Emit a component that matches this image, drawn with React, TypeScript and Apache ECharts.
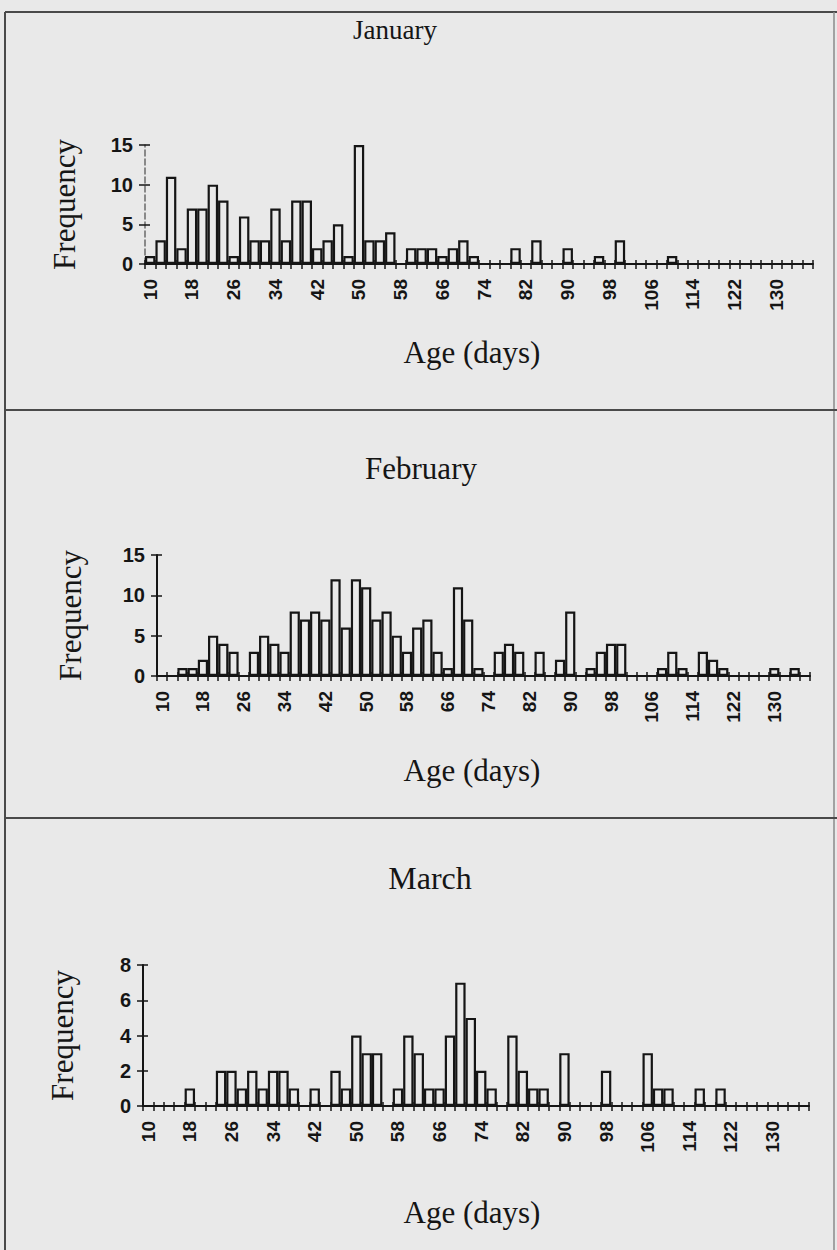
import React, { useEffect, useRef } from "react";
import * as echarts from "echarts";

// Age bins (days)
const ages = [
  "10","12","14","16","18","20","22","24","26","28","30","32","34","36","38","40",
  "42","44","46","48","50","52","54","56","58","60","62","64","66","68","70","72",
  "74","76","78","80","82","84","86","88","90","92","94","96","98","100","102","104",
  "106","108","110","112","114","116","118","120","122","124","126","128","130","132","134","136",
];

const janFreq = [
  1, 3, 11, 2, 7, 7, 10, 8, 1, 6, 3, 3, 7, 3, 8, 8,
  2, 3, 5, 1, 15, 3, 3, 4, 0, 2, 2, 2, 1, 2, 3, 1,
  0, 0, 0, 2, 0, 3, 0, 0, 2, 0, 0, 1, 0, 3, 0, 0,
  0, 0, 1, 0, 0, 0, 0, 0, 0, 0, 0, 0, 0, 0, 0, 0,
];

const febFreq = [
  0, 0, 1, 1, 2, 5, 4, 3, 0, 3, 5, 4, 3, 8, 7, 8,
  7, 12, 6, 12, 11, 7, 8, 5, 3, 6, 7, 3, 1, 11, 7, 1,
  0, 3, 4, 3, 0, 3, 0, 2, 8, 0, 1, 3, 4, 4, 0, 0,
  0, 1, 3, 1, 0, 3, 2, 1, 0, 0, 0, 0, 1, 0, 1, 0,
];

const marFreq = [
  0, 0, 0, 0, 1, 0, 0, 2, 2, 1, 2, 1, 2, 2, 1, 0,
  1, 0, 2, 1, 4, 3, 3, 0, 1, 4, 3, 1, 1, 4, 7, 5,
  2, 1, 0, 4, 2, 1, 1, 0, 3, 0, 0, 0, 2, 0, 0, 0,
  3, 1, 1, 0, 0, 1, 0, 1, 0, 0, 0, 0, 0, 0, 0, 0,
];

const monthNames = ["January", "February", "March"];
const yMaxes = [15, 15, 8];
const yIntervals = [5, 5, 2];
const yAxisTitle = "Frequency";
const xAxisTitle = "Age (days)";

// layout (pixels)
const panels = [
  { left: 145, top: 145, width: 668, height: 119, titleX: 395, titleY: 30, titleSize: 27, freqX: 64, ageY: 352, dashedY: true },
  { left: 157, top: 555, width: 653, height: 121, titleX: 421, titleY: 468, titleSize: 31, freqX: 70, ageY: 770, dashedY: false },
  { left: 143, top: 965, width: 666, height: 141, titleX: 430, titleY: 878, titleSize: 32, freqX: 62, ageY: 1212, dashedY: false },
];

const BG = "#e9e9e9";
const INK = "#151515";
const SANS = "'Liberation Sans', Arial, sans-serif";
const SERIF = "'Liberation Serif', 'Times New Roman', serif";

export default function App() {
  const ref = useRef<HTMLDivElement>(null);

  useEffect(() => {
    if (!ref.current) return;
    const chart = echarts.init(ref.current, null, { renderer: "svg" });
    const data = [janFreq, febFreq, marFreq];

    const grid: any[] = [];
    const xAxis: any[] = [];
    const yAxis: any[] = [];
    const series: any[] = [];
    const graphic: any[] = [];

    panels.forEach((p, i) => {
      grid.push({ left: p.left, top: p.top, width: p.width, height: p.height, containLabel: false });
      xAxis.push({
        type: "category",
        gridIndex: i,
        data: ages,
        position: "bottom",
        boundaryGap: true,
        axisLine: { show: true, lineStyle: { color: INK, width: 2 } },
        axisTick: { show: true, interval: 0, length: 5, lineStyle: { color: INK, width: 1.5 } },
        axisLabel: {
          interval: 3,
          rotate: 90,
          margin: 15,
          fontFamily: SANS,
          fontWeight: "bold",
          fontSize: 19,
          color: INK,
        },
        splitLine: { show: false },
      });
      xAxis.push({
        type: "category",
        gridIndex: i,
        data: ages,
        position: "bottom",
        boundaryGap: true,
        axisLine: { show: false },
        axisTick: { show: true, inside: true, interval: 0, length: 4, lineStyle: { color: INK, width: 1.5 } },
        axisLabel: { show: false },
        splitLine: { show: false },
      });
      yAxis.push({
        type: "value",
        gridIndex: i,
        min: 0,
        max: yMaxes[i],
        interval: yIntervals[i],
        position: "left",
        axisLine: {
          show: true,
          lineStyle: { color: p.dashedY ? "#6a6a6a" : INK, width: p.dashedY ? 1.5 : 2, type: p.dashedY ? "dashed" : "solid" },
        },
        axisTick: { show: true, length: 6, lineStyle: { color: INK, width: 1.5 } },
        axisLabel: { margin: 12, fontFamily: SANS, fontWeight: "bold", fontSize: 20, color: INK },
        splitLine: { show: false },
      });
      yAxis.push({
        type: "value",
        gridIndex: i,
        min: 0,
        max: yMaxes[i],
        interval: yIntervals[i],
        position: "left",
        axisLine: { show: false },
        axisTick: { show: true, inside: true, length: 5, lineStyle: { color: INK, width: 1.5 } },
        axisLabel: { show: false },
        splitLine: { show: false },
      });
      series.push({
        type: "bar",
        name: monthNames[i],
        xAxisIndex: 2 * i,
        yAxisIndex: 2 * i,
        data: data[i],
        barCategoryGap: "0%",
        silent: true,
        itemStyle: { color: "rgba(0,0,0,0)", borderColor: INK, borderWidth: 2.2 },
      });

      graphic.push({
        type: "text",
        x: p.titleX,
        y: p.titleY,
        style: { text: monthNames[i], font: `${p.titleSize}px ${SERIF}`, fill: INK, align: "center", verticalAlign: "middle" },
      });
      graphic.push({
        type: "text",
        x: p.freqX,
        y: p.top + p.height / 2,
        rotation: Math.PI / 2,
        style: { text: yAxisTitle, font: `31px ${SERIF}`, fill: INK, align: "center", verticalAlign: "middle" },
      });
      graphic.push({
        type: "text",
        x: 472,
        y: p.ageY,
        style: { text: xAxisTitle, font: `31px ${SERIF}`, fill: INK, align: "center", verticalAlign: "middle" },
      });
    });

    // frame
    const frameStyle = { stroke: "#4a4a4a", lineWidth: 2 };
    graphic.push({ type: "line", shape: { x1: 5, y1: 12, x2: 837, y2: 12 }, style: frameStyle });
    graphic.push({ type: "line", shape: { x1: 5, y1: 12, x2: 5, y2: 1250 }, style: frameStyle });
    graphic.push({ type: "line", shape: { x1: 834, y1: 12, x2: 834, y2: 1250 }, style: { stroke: "#8a8a8a", lineWidth: 1.5 } });
    graphic.push({ type: "line", shape: { x1: 5, y1: 410, x2: 837, y2: 410 }, style: frameStyle });
    graphic.push({ type: "line", shape: { x1: 5, y1: 818, x2: 837, y2: 818 }, style: frameStyle });

    chart.setOption({
      animation: false,
      backgroundColor: BG,
      grid,
      xAxis,
      yAxis,
      series,
      graphic,
    });

    return () => chart.dispose();
  }, []);

  return (
    <div
      ref={ref}
      style={{ position: "absolute", left: 0, top: 0, width: 837, height: 1250 }}
    />
  );
}
